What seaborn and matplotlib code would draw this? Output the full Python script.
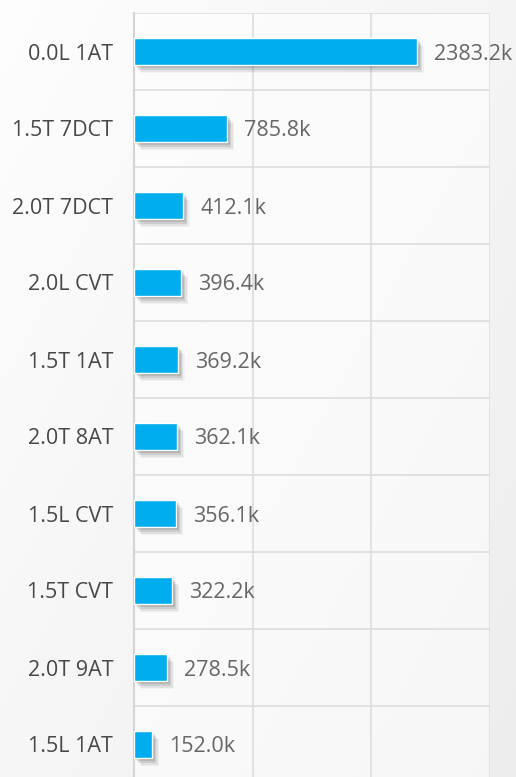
import numpy as np
import pandas as pd
import matplotlib
matplotlib.use("Agg")
import matplotlib.pyplot as plt
import matplotlib.patheffects as pe
import seaborn as sns

# data (thousands)
categories = ["0.0L 1AT", "1.5T 7DCT", "2.0T 7DCT", "2.0L CVT", "1.5T 1AT",
              "2.0T 8AT", "1.5L CVT", "1.5T CVT", "2.0T 9AT", "1.5L 1AT"]
values = [2383.2, 785.8, 412.1, 396.4, 369.2, 362.1, 356.1, 322.2, 278.5, 152.0]
x_ticks = [0, 1000, 2000, 3000]

df = pd.DataFrame({"category": categories, "value": values})

sns.set_theme(style="white")
plt.rcParams["font.family"] = ["Open Sans", "DejaVu Sans"]

W, H = 516, 777
fig = plt.figure(figsize=(W / 100, H / 100), dpi=100)

# soft diagonal gradient background
bg = fig.add_axes([0, 0, 1, 1], zorder=-10)
yy, xx = np.mgrid[0:1:200j, 0:1:200j]
grad = 0.995 - 0.065 * (0.55 * xx + 0.45 * yy)
bg.imshow(np.dstack([grad] * 3), aspect="auto", extent=[0, 1, 0, 1], origin="upper")
bg.axis("off")

left, right = 134 / W, 490 / W
top = 1 - 13 / H
row_h = 77 / H
height = row_h * len(categories)
ax = fig.add_axes([left, top - height, right - left, height])
ax.set_facecolor((1, 1, 1, 0.55))

sns.barplot(data=df, x="value", y="category", orient="h", color="#00AEEF",
            saturation=1, width=0.35, ax=ax, zorder=3)

shadow = [pe.SimplePatchShadow(offset=(o, -o * 1.2), shadow_rgbFace="black", alpha=a)
          for o, a in [(5, 0.04), (4, 0.06), (3, 0.09), (2, 0.1), (1, 0.08)]]
for p in ax.patches:
    p.set_path_effects(shadow + [pe.Normal()])

for i, v in enumerate(values):
    ax.text(v + 145, i, f"{v:.1f}k", va="center_baseline", ha="left",
            fontsize=15.5, color="#666666", zorder=4)

ax.set_xlim(0, 3000)
ax.set_ylim(len(categories) - 0.5, -0.5)
ax.set_xticks(x_ticks)
ax.set_xticklabels([])
ax.set_yticks(np.arange(len(categories) + 1) - 0.5, minor=True)
ax.grid(True, axis="x", color="#dddddd", linewidth=1.2, zorder=0)
ax.grid(True, axis="y", which="minor", color="#dddddd", linewidth=1.2, zorder=0)
ax.set_axisbelow(True)
ax.tick_params(axis="y", which="major", length=0, pad=15, labelsize=15.5,
               labelcolor="#484848")
ax.tick_params(axis="both", which="minor", length=0)
ax.tick_params(axis="x", length=0)
ax.set_xlabel("")
ax.set_ylabel("")
for s in ax.spines.values():
    s.set_visible(False)
ax.spines["left"].set_visible(True)
ax.spines["left"].set_color("#d4d4d4")
ax.spines["left"].set_linewidth(1.5)

fig.savefig("out.png", dpi=100)
